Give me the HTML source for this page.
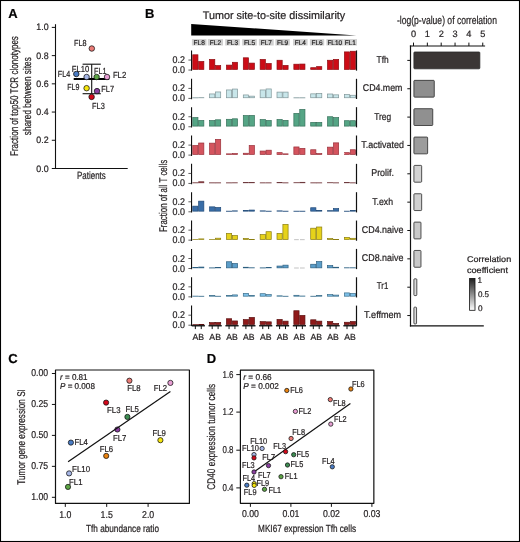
<!DOCTYPE html>
<html><head><meta charset="utf-8"><style>
html,body{margin:0;padding:0;background:#fff;}
svg{display:block;font-family:"Liberation Sans", sans-serif;will-change:transform;text-rendering:geometricPrecision;}
text{stroke:#231f20;stroke-width:0.22px;}

</style></head><body>
<svg width="520" height="542" viewBox="0 0 520 542" fill="#231f20">
<rect width="520" height="542" fill="#fff"/>
<rect x="0.5" y="0.5" width="519" height="541" fill="none" stroke="#000" stroke-width="1.1"/>
<text x="8.20" y="17.80" font-size="13.0" font-weight="bold" fill="#000">A</text>
<text x="145.00" y="17.90" font-size="13.0" font-weight="bold" fill="#000">B</text>
<text x="8.30" y="363.40" font-size="13.0" font-weight="bold" fill="#000">C</text>
<text x="206.70" y="363.30" font-size="13.0" font-weight="bold" fill="#000">D</text>
<line x1="55.50" y1="24.20" x2="55.50" y2="169.00" stroke="#111" stroke-width="1.1"/>
<line x1="55.00" y1="168.50" x2="127.70" y2="168.50" stroke="#111" stroke-width="1.1"/>
<line x1="51.80" y1="168.50" x2="55.50" y2="168.50" stroke="#111" stroke-width="1.0"/>
<text x="48.60" y="171.50" font-size="9.4" text-anchor="end" textLength="12.3" lengthAdjust="spacingAndGlyphs">0.0</text>
<line x1="51.80" y1="140.28" x2="55.50" y2="140.28" stroke="#111" stroke-width="1.0"/>
<text x="48.60" y="143.28" font-size="9.4" text-anchor="end" textLength="12.3" lengthAdjust="spacingAndGlyphs">0.2</text>
<line x1="51.80" y1="112.06" x2="55.50" y2="112.06" stroke="#111" stroke-width="1.0"/>
<text x="48.60" y="115.06" font-size="9.4" text-anchor="end" textLength="12.3" lengthAdjust="spacingAndGlyphs">0.4</text>
<line x1="51.80" y1="83.84" x2="55.50" y2="83.84" stroke="#111" stroke-width="1.0"/>
<text x="48.60" y="86.84" font-size="9.4" text-anchor="end" textLength="12.3" lengthAdjust="spacingAndGlyphs">0.6</text>
<line x1="51.80" y1="55.62" x2="55.50" y2="55.62" stroke="#111" stroke-width="1.0"/>
<text x="48.60" y="58.62" font-size="9.4" text-anchor="end" textLength="12.3" lengthAdjust="spacingAndGlyphs">0.8</text>
<line x1="51.80" y1="27.40" x2="55.50" y2="27.40" stroke="#111" stroke-width="1.0"/>
<text x="48.60" y="30.40" font-size="9.4" text-anchor="end" textLength="12.3" lengthAdjust="spacingAndGlyphs">1.0</text>
<text x="91.40" y="178.80" font-size="10.5" text-anchor="middle" textLength="28.7" lengthAdjust="spacingAndGlyphs">Patients</text>
<text x="17.80" y="96.05" font-size="11.2" text-anchor="middle" textLength="119.9" lengthAdjust="spacingAndGlyphs" transform="rotate(-90 17.80 96.05)">Fraction of top50 TCR clonotypes</text>
<text x="30.80" y="96.20" font-size="11.2" text-anchor="middle" textLength="78" lengthAdjust="spacingAndGlyphs" transform="rotate(-90 30.80 96.20)">shared between sites</text>
<line x1="91.70" y1="64.20" x2="91.70" y2="93.70" stroke="#111" stroke-width="1.1"/>
<line x1="82.60" y1="64.20" x2="100.80" y2="64.20" stroke="#111" stroke-width="1.1"/>
<line x1="82.60" y1="93.70" x2="100.80" y2="93.70" stroke="#111" stroke-width="1.1"/>
<line x1="73.70" y1="79.00" x2="109.20" y2="79.00" stroke="#000" stroke-width="1.9"/>
<circle cx="91.80" cy="48.50" r="2.75" fill="#ea7b76" stroke="#111" stroke-width="0.75"/>
<circle cx="76.30" cy="74.00" r="2.75" fill="#4a7cc4" stroke="#111" stroke-width="0.75"/>
<circle cx="86.60" cy="77.00" r="2.75" fill="#a6b6e6" stroke="#111" stroke-width="0.75"/>
<circle cx="96.60" cy="77.00" r="2.75" fill="#5da545" stroke="#111" stroke-width="0.75"/>
<circle cx="107.00" cy="77.00" r="2.75" fill="#e79ed3" stroke="#111" stroke-width="0.75"/>
<circle cx="86.60" cy="88.20" r="2.75" fill="#f6e60c" stroke="#111" stroke-width="0.75"/>
<circle cx="97.00" cy="91.10" r="2.75" fill="#8b3fa0" stroke="#111" stroke-width="0.75"/>
<circle cx="91.60" cy="96.90" r="2.75" fill="#d2081a" stroke="#111" stroke-width="0.75"/>
<text x="74.10" y="45.70" font-size="8.8" textLength="12.5" lengthAdjust="spacingAndGlyphs">FL8</text>
<text x="57.80" y="77.30" font-size="8.8" textLength="12.4" lengthAdjust="spacingAndGlyphs">FL4</text>
<text x="71.80" y="71.50" font-size="8.8" textLength="17.4" lengthAdjust="spacingAndGlyphs">FL10</text>
<text x="94.00" y="73.50" font-size="8.8" textLength="12.4" lengthAdjust="spacingAndGlyphs">FL1</text>
<text x="112.90" y="77.90" font-size="8.8" textLength="13.3" lengthAdjust="spacingAndGlyphs">FL2</text>
<text x="67.30" y="90.20" font-size="8.8" textLength="12.2" lengthAdjust="spacingAndGlyphs">FL9</text>
<text x="101.30" y="91.80" font-size="8.8" textLength="12.7" lengthAdjust="spacingAndGlyphs">FL7</text>
<text x="92.10" y="109.10" font-size="8.8" textLength="12.7" lengthAdjust="spacingAndGlyphs">FL3</text>
<text x="202.70" y="18.80" font-size="11.0" textLength="142.5" lengthAdjust="spacingAndGlyphs">Tumor site-to-site dissimilarity</text>
<polygon points="191.2,24 191.2,35.4 356.4,35.4" fill="#000"/>
<rect x="191.90" y="39.10" width="14.60" height="6.40" fill="#d0d0d0"/>
<text x="199.20" y="44.60" font-size="6.8" text-anchor="middle" fill="#1c1c1c" textLength="11.2" lengthAdjust="spacingAndGlyphs" stroke="#1c1c1c" style="stroke-width:0.18px">FL8</text>
<rect x="207.80" y="39.10" width="15.20" height="6.40" fill="#d0d0d0"/>
<text x="215.40" y="44.60" font-size="6.8" text-anchor="middle" fill="#1c1c1c" textLength="11.2" lengthAdjust="spacingAndGlyphs" stroke="#1c1c1c" style="stroke-width:0.18px">FL2</text>
<rect x="225.20" y="39.10" width="14.60" height="6.40" fill="#d0d0d0"/>
<text x="232.50" y="44.60" font-size="6.8" text-anchor="middle" fill="#1c1c1c" textLength="11.2" lengthAdjust="spacingAndGlyphs" stroke="#1c1c1c" style="stroke-width:0.18px">FL3</text>
<rect x="242.20" y="39.10" width="14.60" height="6.40" fill="#d0d0d0"/>
<text x="249.50" y="44.60" font-size="6.8" text-anchor="middle" fill="#1c1c1c" textLength="11.2" lengthAdjust="spacingAndGlyphs" stroke="#1c1c1c" style="stroke-width:0.18px">FL5</text>
<rect x="258.90" y="39.10" width="14.80" height="6.40" fill="#d0d0d0"/>
<text x="266.30" y="44.60" font-size="6.8" text-anchor="middle" fill="#1c1c1c" textLength="11.2" lengthAdjust="spacingAndGlyphs" stroke="#1c1c1c" style="stroke-width:0.18px">FL7</text>
<rect x="275.40" y="39.10" width="14.40" height="6.40" fill="#d0d0d0"/>
<text x="282.60" y="44.60" font-size="6.8" text-anchor="middle" fill="#1c1c1c" textLength="11.2" lengthAdjust="spacingAndGlyphs" stroke="#1c1c1c" style="stroke-width:0.18px">FL9</text>
<rect x="293.00" y="39.10" width="14.60" height="6.40" fill="#d0d0d0"/>
<text x="300.30" y="44.60" font-size="6.8" text-anchor="middle" fill="#1c1c1c" textLength="11.2" lengthAdjust="spacingAndGlyphs" stroke="#1c1c1c" style="stroke-width:0.18px">FL4</text>
<rect x="309.90" y="39.10" width="14.30" height="6.40" fill="#d0d0d0"/>
<text x="317.05" y="44.60" font-size="6.8" text-anchor="middle" fill="#1c1c1c" textLength="11.2" lengthAdjust="spacingAndGlyphs" stroke="#1c1c1c" style="stroke-width:0.18px">FL6</text>
<rect x="326.40" y="39.10" width="16.80" height="6.40" fill="#d0d0d0"/>
<text x="334.80" y="44.60" font-size="6.8" text-anchor="middle" fill="#1c1c1c" textLength="14.8" lengthAdjust="spacingAndGlyphs" stroke="#1c1c1c" style="stroke-width:0.18px">FL10</text>
<rect x="343.50" y="39.10" width="13.50" height="6.40" fill="#d0d0d0"/>
<text x="350.25" y="44.60" font-size="6.8" text-anchor="middle" fill="#1c1c1c" textLength="11.2" lengthAdjust="spacingAndGlyphs" stroke="#1c1c1c" style="stroke-width:0.18px">FL1</text>
<line x1="191.55" y1="50.45" x2="191.55" y2="70.85" stroke="#111" stroke-width="1.1"/>
<line x1="188.40" y1="70.05" x2="191.20" y2="70.05" stroke="#444" stroke-width="0.85"/>
<text x="184.90" y="73.05" font-size="9.8" text-anchor="end" textLength="12.4" lengthAdjust="spacingAndGlyphs">0.0</text>
<line x1="188.40" y1="60.05" x2="191.20" y2="60.05" stroke="#444" stroke-width="0.85"/>
<text x="184.90" y="63.05" font-size="9.8" text-anchor="end" textLength="12.4" lengthAdjust="spacingAndGlyphs">0.2</text>
<rect x="192.75" y="54.80" width="5.20" height="14.60" fill="#cc0c16" stroke="#8e0c12" stroke-width="0.7"/>
<rect x="198.65" y="61.50" width="5.20" height="7.90" fill="#cc0c16" stroke="#8e0c12" stroke-width="0.7"/>
<rect x="209.60" y="59.45" width="5.20" height="9.95" fill="#cc0c16" stroke="#8e0c12" stroke-width="0.7"/>
<rect x="215.50" y="65.60" width="5.20" height="3.80" fill="#cc0c16" stroke="#8e0c12" stroke-width="0.7"/>
<rect x="226.45" y="65.10" width="5.20" height="4.30" fill="#cc0c16" stroke="#8e0c12" stroke-width="0.7"/>
<rect x="232.35" y="62.30" width="5.20" height="7.10" fill="#cc0c16" stroke="#8e0c12" stroke-width="0.7"/>
<rect x="243.30" y="57.80" width="5.20" height="11.60" fill="#cc0c16" stroke="#8e0c12" stroke-width="0.7"/>
<rect x="249.20" y="63.10" width="5.20" height="6.30" fill="#cc0c16" stroke="#8e0c12" stroke-width="0.7"/>
<rect x="260.15" y="59.45" width="5.20" height="9.95" fill="#cc0c16" stroke="#8e0c12" stroke-width="0.7"/>
<rect x="266.05" y="63.50" width="5.20" height="5.90" fill="#cc0c16" stroke="#8e0c12" stroke-width="0.7"/>
<rect x="277.00" y="60.25" width="5.20" height="9.15" fill="#cc0c16" stroke="#8e0c12" stroke-width="0.7"/>
<rect x="282.90" y="65.44" width="5.20" height="3.96" fill="#cc0c16" stroke="#8e0c12" stroke-width="0.7"/>
<rect x="293.85" y="64.20" width="5.20" height="5.20" fill="#cc0c16" stroke="#8e0c12" stroke-width="0.7"/>
<rect x="299.75" y="64.05" width="5.20" height="5.35" fill="#cc0c16" stroke="#8e0c12" stroke-width="0.7"/>
<rect x="310.70" y="67.70" width="5.20" height="1.70" fill="#cc0c16" stroke="#8e0c12" stroke-width="0.7"/>
<rect x="316.60" y="66.65" width="5.20" height="2.75" fill="#cc0c16" stroke="#8e0c12" stroke-width="0.7"/>
<rect x="327.55" y="60.25" width="5.20" height="9.15" fill="#cc0c16" stroke="#8e0c12" stroke-width="0.7"/>
<rect x="333.45" y="59.40" width="5.20" height="10.00" fill="#cc0c16" stroke="#8e0c12" stroke-width="0.7"/>
<rect x="344.40" y="51.90" width="5.20" height="17.50" fill="#cc0c16" stroke="#8e0c12" stroke-width="0.7"/>
<rect x="350.30" y="51.25" width="5.20" height="18.15" fill="#cc0c16" stroke="#8e0c12" stroke-width="0.7"/>
<line x1="356.50" y1="50.45" x2="356.50" y2="70.65" stroke="#111" stroke-width="1.2"/>
<text x="382.60" y="63.20" font-size="9.8" text-anchor="middle" textLength="12.1" lengthAdjust="spacingAndGlyphs">Tfh</text>
<line x1="407.30" y1="60.40" x2="410.50" y2="60.40" stroke="#111" stroke-width="1.0"/>
<rect x="413.90" y="52.00" width="65.94" height="16.80" fill="#3b3635" stroke="#2a2a2a" stroke-width="0.8" rx="0.8"/>
<line x1="191.55" y1="78.80" x2="191.55" y2="99.20" stroke="#111" stroke-width="1.1"/>
<line x1="188.40" y1="98.40" x2="191.20" y2="98.40" stroke="#444" stroke-width="0.85"/>
<text x="184.90" y="101.40" font-size="9.8" text-anchor="end" textLength="12.4" lengthAdjust="spacingAndGlyphs">0.0</text>
<line x1="188.40" y1="88.40" x2="191.20" y2="88.40" stroke="#444" stroke-width="0.85"/>
<text x="184.90" y="91.40" font-size="9.8" text-anchor="end" textLength="12.4" lengthAdjust="spacingAndGlyphs">0.2</text>
<rect x="192.75" y="97.75" width="5.20" height="0.15" fill="#c8e6ea" stroke="#7f9598" stroke-width="0.7"/>
<rect x="198.65" y="97.65" width="5.20" height="0.15" fill="#c8e6ea" stroke="#7f9598" stroke-width="0.7"/>
<rect x="209.60" y="93.95" width="5.20" height="3.80" fill="#c8e6ea" stroke="#7f9598" stroke-width="0.7"/>
<rect x="215.50" y="91.95" width="5.20" height="5.80" fill="#c8e6ea" stroke="#7f9598" stroke-width="0.7"/>
<rect x="226.45" y="89.95" width="5.20" height="7.80" fill="#c8e6ea" stroke="#7f9598" stroke-width="0.7"/>
<rect x="232.35" y="89.05" width="5.20" height="8.70" fill="#c8e6ea" stroke="#7f9598" stroke-width="0.7"/>
<rect x="243.30" y="94.95" width="5.20" height="2.80" fill="#c8e6ea" stroke="#7f9598" stroke-width="0.7"/>
<rect x="249.20" y="96.15" width="5.20" height="1.60" fill="#c8e6ea" stroke="#7f9598" stroke-width="0.7"/>
<rect x="260.15" y="89.95" width="5.20" height="7.80" fill="#c8e6ea" stroke="#7f9598" stroke-width="0.7"/>
<rect x="266.05" y="88.95" width="5.20" height="8.80" fill="#c8e6ea" stroke="#7f9598" stroke-width="0.7"/>
<rect x="277.00" y="92.10" width="5.20" height="5.65" fill="#c8e6ea" stroke="#7f9598" stroke-width="0.7"/>
<rect x="282.90" y="92.10" width="5.20" height="5.65" fill="#c8e6ea" stroke="#7f9598" stroke-width="0.7"/>
<rect x="293.85" y="97.75" width="5.20" height="0.15" fill="#c8e6ea" stroke="#7f9598" stroke-width="0.7"/>
<rect x="299.75" y="97.75" width="5.20" height="0.15" fill="#c8e6ea" stroke="#7f9598" stroke-width="0.7"/>
<rect x="310.70" y="93.85" width="5.20" height="3.90" fill="#c8e6ea" stroke="#7f9598" stroke-width="0.7"/>
<rect x="316.60" y="93.55" width="5.20" height="4.20" fill="#c8e6ea" stroke="#7f9598" stroke-width="0.7"/>
<rect x="327.55" y="94.00" width="5.20" height="3.75" fill="#c8e6ea" stroke="#7f9598" stroke-width="0.7"/>
<rect x="333.45" y="94.85" width="5.20" height="2.90" fill="#c8e6ea" stroke="#7f9598" stroke-width="0.7"/>
<rect x="344.40" y="94.55" width="5.20" height="3.20" fill="#c8e6ea" stroke="#7f9598" stroke-width="0.7"/>
<rect x="350.30" y="95.25" width="5.20" height="2.50" fill="#c8e6ea" stroke="#7f9598" stroke-width="0.7"/>
<line x1="356.50" y1="78.80" x2="356.50" y2="99.00" stroke="#111" stroke-width="1.2"/>
<text x="382.60" y="91.47" font-size="9.8" text-anchor="middle" textLength="39.6" lengthAdjust="spacingAndGlyphs">CD4.mem</text>
<line x1="407.30" y1="88.75" x2="410.50" y2="88.75" stroke="#111" stroke-width="1.0"/>
<rect x="413.90" y="80.35" width="20.38" height="16.80" fill="#8e8e8e" stroke="#2a2a2a" stroke-width="0.8" rx="0.8"/>
<line x1="191.55" y1="107.15" x2="191.55" y2="127.55" stroke="#111" stroke-width="1.1"/>
<line x1="188.40" y1="126.75" x2="191.20" y2="126.75" stroke="#444" stroke-width="0.85"/>
<text x="184.90" y="129.75" font-size="9.8" text-anchor="end" textLength="12.4" lengthAdjust="spacingAndGlyphs">0.0</text>
<line x1="188.40" y1="116.75" x2="191.20" y2="116.75" stroke="#444" stroke-width="0.85"/>
<text x="184.90" y="119.75" font-size="9.8" text-anchor="end" textLength="12.4" lengthAdjust="spacingAndGlyphs">0.2</text>
<rect x="192.75" y="117.60" width="5.20" height="8.50" fill="#55a585" stroke="#35705a" stroke-width="0.7"/>
<rect x="198.65" y="120.50" width="5.20" height="5.60" fill="#55a585" stroke="#35705a" stroke-width="0.7"/>
<rect x="209.60" y="120.60" width="5.20" height="5.50" fill="#55a585" stroke="#35705a" stroke-width="0.7"/>
<rect x="215.50" y="119.80" width="5.20" height="6.30" fill="#55a585" stroke="#35705a" stroke-width="0.7"/>
<rect x="226.45" y="119.30" width="5.20" height="6.80" fill="#55a585" stroke="#35705a" stroke-width="0.7"/>
<rect x="232.35" y="118.80" width="5.20" height="7.30" fill="#55a585" stroke="#35705a" stroke-width="0.7"/>
<rect x="243.30" y="115.60" width="5.20" height="10.50" fill="#55a585" stroke="#35705a" stroke-width="0.7"/>
<rect x="249.20" y="115.45" width="5.20" height="10.65" fill="#55a585" stroke="#35705a" stroke-width="0.7"/>
<rect x="260.15" y="119.60" width="5.20" height="6.50" fill="#55a585" stroke="#35705a" stroke-width="0.7"/>
<rect x="266.05" y="120.50" width="5.20" height="5.60" fill="#55a585" stroke="#35705a" stroke-width="0.7"/>
<rect x="277.00" y="119.50" width="5.20" height="6.60" fill="#55a585" stroke="#35705a" stroke-width="0.7"/>
<rect x="282.90" y="120.36" width="5.20" height="5.74" fill="#55a585" stroke="#35705a" stroke-width="0.7"/>
<rect x="293.85" y="113.44" width="5.20" height="12.66" fill="#55a585" stroke="#35705a" stroke-width="0.7"/>
<rect x="299.75" y="109.46" width="5.20" height="16.64" fill="#55a585" stroke="#35705a" stroke-width="0.7"/>
<rect x="310.70" y="122.44" width="5.20" height="3.66" fill="#55a585" stroke="#35705a" stroke-width="0.7"/>
<rect x="316.60" y="122.44" width="5.20" height="3.66" fill="#55a585" stroke="#35705a" stroke-width="0.7"/>
<rect x="327.55" y="116.73" width="5.20" height="9.37" fill="#55a585" stroke="#35705a" stroke-width="0.7"/>
<rect x="333.45" y="117.60" width="5.20" height="8.50" fill="#55a585" stroke="#35705a" stroke-width="0.7"/>
<rect x="344.40" y="120.70" width="5.20" height="5.40" fill="#55a585" stroke="#35705a" stroke-width="0.7"/>
<rect x="350.30" y="120.70" width="5.20" height="5.40" fill="#55a585" stroke="#35705a" stroke-width="0.7"/>
<line x1="356.50" y1="107.15" x2="356.50" y2="127.35" stroke="#111" stroke-width="1.2"/>
<text x="382.60" y="119.74" font-size="9.8" text-anchor="middle" textLength="16.9" lengthAdjust="spacingAndGlyphs">Treg</text>
<line x1="407.30" y1="117.10" x2="410.50" y2="117.10" stroke="#111" stroke-width="1.0"/>
<rect x="413.90" y="108.70" width="18.85" height="16.80" fill="#909090" stroke="#2a2a2a" stroke-width="0.8" rx="0.8"/>
<line x1="191.55" y1="135.50" x2="191.55" y2="155.90" stroke="#111" stroke-width="1.1"/>
<line x1="188.40" y1="155.10" x2="191.20" y2="155.10" stroke="#444" stroke-width="0.85"/>
<text x="184.90" y="158.10" font-size="9.8" text-anchor="end" textLength="12.4" lengthAdjust="spacingAndGlyphs">0.0</text>
<line x1="188.40" y1="145.10" x2="191.20" y2="145.10" stroke="#444" stroke-width="0.85"/>
<text x="184.90" y="148.10" font-size="9.8" text-anchor="end" textLength="12.4" lengthAdjust="spacingAndGlyphs">0.2</text>
<rect x="192.75" y="145.55" width="5.20" height="8.90" fill="#d4545e" stroke="#99303a" stroke-width="0.7"/>
<rect x="198.65" y="143.00" width="5.20" height="11.45" fill="#d4545e" stroke="#99303a" stroke-width="0.7"/>
<rect x="209.60" y="143.15" width="5.20" height="11.30" fill="#d4545e" stroke="#99303a" stroke-width="0.7"/>
<rect x="215.50" y="139.35" width="5.20" height="15.10" fill="#d4545e" stroke="#99303a" stroke-width="0.7"/>
<rect x="226.45" y="153.85" width="5.20" height="0.60" fill="#d4545e" stroke="#99303a" stroke-width="0.7"/>
<rect x="232.35" y="153.55" width="5.20" height="0.90" fill="#d4545e" stroke="#99303a" stroke-width="0.7"/>
<rect x="243.30" y="153.25" width="5.20" height="1.20" fill="#d4545e" stroke="#99303a" stroke-width="0.7"/>
<rect x="249.20" y="145.55" width="5.20" height="8.90" fill="#d4545e" stroke="#99303a" stroke-width="0.7"/>
<rect x="260.15" y="151.05" width="5.20" height="3.40" fill="#d4545e" stroke="#99303a" stroke-width="0.7"/>
<rect x="266.05" y="150.20" width="5.20" height="4.25" fill="#d4545e" stroke="#99303a" stroke-width="0.7"/>
<rect x="277.00" y="152.65" width="5.20" height="1.80" fill="#d4545e" stroke="#99303a" stroke-width="0.7"/>
<rect x="282.90" y="153.85" width="5.20" height="0.60" fill="#d4545e" stroke="#99303a" stroke-width="0.7"/>
<rect x="293.85" y="146.95" width="5.20" height="7.50" fill="#d4545e" stroke="#99303a" stroke-width="0.7"/>
<rect x="299.75" y="148.35" width="5.20" height="6.10" fill="#d4545e" stroke="#99303a" stroke-width="0.7"/>
<rect x="310.70" y="149.75" width="5.20" height="4.70" fill="#d4545e" stroke="#99303a" stroke-width="0.7"/>
<rect x="316.60" y="153.55" width="5.20" height="0.90" fill="#d4545e" stroke="#99303a" stroke-width="0.7"/>
<rect x="327.55" y="147.15" width="5.20" height="7.30" fill="#d4545e" stroke="#99303a" stroke-width="0.7"/>
<rect x="333.45" y="142.85" width="5.20" height="11.60" fill="#d4545e" stroke="#99303a" stroke-width="0.7"/>
<rect x="344.40" y="152.65" width="5.20" height="1.80" fill="#d4545e" stroke="#99303a" stroke-width="0.7"/>
<rect x="350.30" y="149.75" width="5.20" height="4.70" fill="#d4545e" stroke="#99303a" stroke-width="0.7"/>
<line x1="356.50" y1="135.50" x2="356.50" y2="155.70" stroke="#111" stroke-width="1.2"/>
<text x="382.60" y="148.01" font-size="9.8" text-anchor="middle" textLength="42.7" lengthAdjust="spacingAndGlyphs">T.activated</text>
<line x1="407.30" y1="145.45" x2="410.50" y2="145.45" stroke="#111" stroke-width="1.0"/>
<rect x="413.90" y="137.05" width="13.73" height="16.80" fill="#9c9c9c" stroke="#2a2a2a" stroke-width="0.8" rx="0.8"/>
<line x1="191.55" y1="163.85" x2="191.55" y2="184.25" stroke="#111" stroke-width="1.1"/>
<line x1="188.40" y1="183.45" x2="191.20" y2="183.45" stroke="#444" stroke-width="0.85"/>
<text x="184.90" y="186.45" font-size="9.8" text-anchor="end" textLength="12.4" lengthAdjust="spacingAndGlyphs">0.0</text>
<line x1="188.40" y1="173.45" x2="191.20" y2="173.45" stroke="#444" stroke-width="0.85"/>
<text x="184.90" y="176.45" font-size="9.8" text-anchor="end" textLength="12.4" lengthAdjust="spacingAndGlyphs">0.2</text>
<rect x="192.75" y="182.75" width="5.20" height="0.15" fill="#a31c24" stroke="#6e3a3e" stroke-width="0.7"/>
<rect x="198.65" y="181.75" width="5.20" height="1.05" fill="#a31c24" stroke="#6e3a3e" stroke-width="0.7"/>
<rect x="209.60" y="182.80" width="5.20" height="0.15" fill="#a31c24" stroke="#6e3a3e" stroke-width="0.7"/>
<rect x="215.50" y="182.80" width="5.20" height="0.15" fill="#a31c24" stroke="#6e3a3e" stroke-width="0.7"/>
<rect x="226.45" y="182.80" width="5.20" height="0.15" fill="#a31c24" stroke="#6e3a3e" stroke-width="0.7"/>
<rect x="232.35" y="182.75" width="5.20" height="0.15" fill="#a31c24" stroke="#6e3a3e" stroke-width="0.7"/>
<rect x="243.30" y="182.40" width="5.20" height="0.40" fill="#a31c24" stroke="#6e3a3e" stroke-width="0.7"/>
<rect x="249.20" y="182.40" width="5.20" height="0.40" fill="#a31c24" stroke="#6e3a3e" stroke-width="0.7"/>
<rect x="260.15" y="182.80" width="5.20" height="0.15" fill="#a31c24" stroke="#6e3a3e" stroke-width="0.7"/>
<rect x="266.05" y="182.80" width="5.20" height="0.15" fill="#a31c24" stroke="#6e3a3e" stroke-width="0.7"/>
<rect x="277.00" y="182.50" width="5.20" height="0.30" fill="#a31c24" stroke="#6e3a3e" stroke-width="0.7"/>
<rect x="282.90" y="182.80" width="5.20" height="0.15" fill="#a31c24" stroke="#6e3a3e" stroke-width="0.7"/>
<rect x="293.85" y="182.65" width="5.20" height="0.15" fill="#a31c24" stroke="#6e3a3e" stroke-width="0.7"/>
<rect x="299.75" y="182.30" width="5.20" height="0.50" fill="#a31c24" stroke="#6e3a3e" stroke-width="0.7"/>
<rect x="310.70" y="182.80" width="5.20" height="0.15" fill="#a31c24" stroke="#6e3a3e" stroke-width="0.7"/>
<rect x="316.60" y="182.80" width="5.20" height="0.15" fill="#a31c24" stroke="#6e3a3e" stroke-width="0.7"/>
<rect x="327.55" y="182.65" width="5.20" height="0.15" fill="#a31c24" stroke="#6e3a3e" stroke-width="0.7"/>
<rect x="333.45" y="182.80" width="5.20" height="0.15" fill="#a31c24" stroke="#6e3a3e" stroke-width="0.7"/>
<rect x="344.40" y="182.50" width="5.20" height="0.30" fill="#a31c24" stroke="#6e3a3e" stroke-width="0.7"/>
<rect x="350.30" y="182.80" width="5.20" height="0.15" fill="#a31c24" stroke="#6e3a3e" stroke-width="0.7"/>
<line x1="356.50" y1="163.85" x2="356.50" y2="184.05" stroke="#111" stroke-width="1.2"/>
<text x="382.60" y="176.28" font-size="9.8" text-anchor="middle" textLength="22.8" lengthAdjust="spacingAndGlyphs">Prolif.</text>
<line x1="407.30" y1="173.80" x2="410.50" y2="173.80" stroke="#111" stroke-width="1.0"/>
<rect x="413.90" y="165.40" width="7.77" height="16.80" fill="#d3d3d3" stroke="#2a2a2a" stroke-width="0.8" rx="0.8"/>
<line x1="191.55" y1="192.20" x2="191.55" y2="212.60" stroke="#111" stroke-width="1.1"/>
<line x1="188.40" y1="211.80" x2="191.20" y2="211.80" stroke="#444" stroke-width="0.85"/>
<text x="184.90" y="214.80" font-size="9.8" text-anchor="end" textLength="12.4" lengthAdjust="spacingAndGlyphs">0.0</text>
<line x1="188.40" y1="201.80" x2="191.20" y2="201.80" stroke="#444" stroke-width="0.85"/>
<text x="184.90" y="204.80" font-size="9.8" text-anchor="end" textLength="12.4" lengthAdjust="spacingAndGlyphs">0.2</text>
<rect x="192.75" y="206.15" width="5.20" height="5.00" fill="#3a6ea8" stroke="#214a78" stroke-width="0.7"/>
<rect x="198.65" y="201.15" width="5.20" height="10.00" fill="#3a6ea8" stroke="#214a78" stroke-width="0.7"/>
<rect x="209.60" y="206.85" width="5.20" height="4.30" fill="#3a6ea8" stroke="#214a78" stroke-width="0.7"/>
<rect x="215.50" y="207.50" width="5.20" height="3.65" fill="#3a6ea8" stroke="#214a78" stroke-width="0.7"/>
<rect x="226.45" y="211.15" width="5.20" height="0.15" fill="#3a6ea8" stroke="#214a78" stroke-width="0.7"/>
<rect x="232.35" y="210.85" width="5.20" height="0.30" fill="#3a6ea8" stroke="#214a78" stroke-width="0.7"/>
<rect x="243.30" y="210.55" width="5.20" height="0.60" fill="#3a6ea8" stroke="#214a78" stroke-width="0.7"/>
<rect x="249.20" y="210.05" width="5.20" height="1.10" fill="#3a6ea8" stroke="#214a78" stroke-width="0.7"/>
<rect x="260.15" y="210.85" width="5.20" height="0.30" fill="#3a6ea8" stroke="#214a78" stroke-width="0.7"/>
<rect x="266.05" y="211.15" width="5.20" height="0.15" fill="#3a6ea8" stroke="#214a78" stroke-width="0.7"/>
<rect x="277.00" y="210.85" width="5.20" height="0.30" fill="#3a6ea8" stroke="#214a78" stroke-width="0.7"/>
<rect x="282.90" y="211.15" width="5.20" height="0.15" fill="#3a6ea8" stroke="#214a78" stroke-width="0.7"/>
<rect x="293.85" y="211.15" width="5.20" height="0.15" fill="#3a6ea8" stroke="#214a78" stroke-width="0.7"/>
<rect x="299.75" y="211.15" width="5.20" height="0.15" fill="#3a6ea8" stroke="#214a78" stroke-width="0.7"/>
<rect x="310.70" y="207.75" width="5.20" height="3.40" fill="#3a6ea8" stroke="#214a78" stroke-width="0.7"/>
<rect x="316.60" y="210.35" width="5.20" height="0.80" fill="#3a6ea8" stroke="#214a78" stroke-width="0.7"/>
<rect x="327.55" y="210.65" width="5.20" height="0.50" fill="#3a6ea8" stroke="#214a78" stroke-width="0.7"/>
<rect x="333.45" y="208.60" width="5.20" height="2.55" fill="#3a6ea8" stroke="#214a78" stroke-width="0.7"/>
<rect x="344.40" y="211.15" width="5.20" height="0.15" fill="#3a6ea8" stroke="#214a78" stroke-width="0.7"/>
<rect x="350.30" y="210.50" width="5.20" height="0.65" fill="#3a6ea8" stroke="#214a78" stroke-width="0.7"/>
<line x1="356.50" y1="192.20" x2="356.50" y2="212.40" stroke="#111" stroke-width="1.2"/>
<text x="382.60" y="204.55" font-size="9.8" text-anchor="middle" textLength="20.8" lengthAdjust="spacingAndGlyphs">T.exh</text>
<line x1="407.30" y1="202.15" x2="410.50" y2="202.15" stroke="#111" stroke-width="1.0"/>
<rect x="413.90" y="193.75" width="7.77" height="16.80" fill="#d0d0d0" stroke="#2a2a2a" stroke-width="0.8" rx="0.8"/>
<line x1="191.55" y1="220.55" x2="191.55" y2="240.95" stroke="#111" stroke-width="1.1"/>
<line x1="188.40" y1="240.15" x2="191.20" y2="240.15" stroke="#444" stroke-width="0.85"/>
<text x="184.90" y="243.15" font-size="9.8" text-anchor="end" textLength="12.4" lengthAdjust="spacingAndGlyphs">0.0</text>
<line x1="188.40" y1="230.15" x2="191.20" y2="230.15" stroke="#444" stroke-width="0.85"/>
<text x="184.90" y="233.15" font-size="9.8" text-anchor="end" textLength="12.4" lengthAdjust="spacingAndGlyphs">0.2</text>
<rect x="192.75" y="239.40" width="5.20" height="0.15" fill="#e6d21a" stroke="#8a7d10" stroke-width="0.7"/>
<rect x="198.65" y="238.90" width="5.20" height="0.60" fill="#e6d21a" stroke="#8a7d10" stroke-width="0.7"/>
<rect x="209.60" y="239.40" width="5.20" height="0.15" fill="#e6d21a" stroke="#8a7d10" stroke-width="0.7"/>
<rect x="215.50" y="238.20" width="5.20" height="1.30" fill="#e6d21a" stroke="#8a7d10" stroke-width="0.7"/>
<rect x="226.45" y="233.40" width="5.20" height="6.10" fill="#e6d21a" stroke="#8a7d10" stroke-width="0.7"/>
<rect x="232.35" y="235.60" width="5.20" height="3.90" fill="#e6d21a" stroke="#8a7d10" stroke-width="0.7"/>
<rect x="243.30" y="238.40" width="5.20" height="1.10" fill="#e6d21a" stroke="#8a7d10" stroke-width="0.7"/>
<rect x="249.20" y="239.50" width="5.20" height="0.15" fill="#e6d21a" stroke="#8a7d10" stroke-width="0.7"/>
<rect x="260.15" y="234.60" width="5.20" height="4.90" fill="#e6d21a" stroke="#8a7d10" stroke-width="0.7"/>
<rect x="266.05" y="231.70" width="5.20" height="7.80" fill="#e6d21a" stroke="#8a7d10" stroke-width="0.7"/>
<rect x="277.00" y="233.40" width="5.20" height="6.10" fill="#e6d21a" stroke="#8a7d10" stroke-width="0.7"/>
<rect x="282.90" y="224.40" width="5.20" height="15.10" fill="#e6d21a" stroke="#8a7d10" stroke-width="0.7"/>
<rect x="294.10" y="239.15" width="4.70" height="1.00" fill="#c4c4c4"/>
<rect x="300.00" y="239.15" width="4.70" height="1.00" fill="#c4c4c4"/>
<rect x="310.70" y="228.20" width="5.20" height="11.30" fill="#e6d21a" stroke="#8a7d10" stroke-width="0.7"/>
<rect x="316.60" y="227.00" width="5.20" height="12.50" fill="#e6d21a" stroke="#8a7d10" stroke-width="0.7"/>
<rect x="327.55" y="238.60" width="5.20" height="0.90" fill="#e6d21a" stroke="#8a7d10" stroke-width="0.7"/>
<rect x="333.45" y="239.50" width="5.20" height="0.15" fill="#e6d21a" stroke="#8a7d10" stroke-width="0.7"/>
<rect x="344.40" y="237.40" width="5.20" height="2.10" fill="#e6d21a" stroke="#8a7d10" stroke-width="0.7"/>
<rect x="350.30" y="238.30" width="5.20" height="1.20" fill="#e6d21a" stroke="#8a7d10" stroke-width="0.7"/>
<line x1="356.50" y1="220.55" x2="356.50" y2="240.75" stroke="#111" stroke-width="1.2"/>
<text x="382.60" y="232.82" font-size="9.8" text-anchor="middle" textLength="41.6" lengthAdjust="spacingAndGlyphs">CD4.naive</text>
<line x1="407.30" y1="230.50" x2="410.50" y2="230.50" stroke="#111" stroke-width="1.0"/>
<rect x="413.90" y="222.10" width="7.08" height="16.80" fill="#c9c9c9" stroke="#2a2a2a" stroke-width="0.8" rx="0.8"/>
<line x1="191.55" y1="248.90" x2="191.55" y2="269.30" stroke="#111" stroke-width="1.1"/>
<line x1="188.40" y1="268.50" x2="191.20" y2="268.50" stroke="#444" stroke-width="0.85"/>
<text x="184.90" y="271.50" font-size="9.8" text-anchor="end" textLength="12.4" lengthAdjust="spacingAndGlyphs">0.0</text>
<line x1="188.40" y1="258.50" x2="191.20" y2="258.50" stroke="#444" stroke-width="0.85"/>
<text x="184.90" y="261.50" font-size="9.8" text-anchor="end" textLength="12.4" lengthAdjust="spacingAndGlyphs">0.2</text>
<rect x="192.75" y="267.55" width="5.20" height="0.30" fill="#5b9dc9" stroke="#2d5f80" stroke-width="0.7"/>
<rect x="198.65" y="267.05" width="5.20" height="0.80" fill="#5b9dc9" stroke="#2d5f80" stroke-width="0.7"/>
<rect x="209.60" y="267.85" width="5.20" height="0.15" fill="#5b9dc9" stroke="#2d5f80" stroke-width="0.7"/>
<rect x="215.50" y="267.55" width="5.20" height="0.30" fill="#5b9dc9" stroke="#2d5f80" stroke-width="0.7"/>
<rect x="226.45" y="261.75" width="5.20" height="6.10" fill="#5b9dc9" stroke="#2d5f80" stroke-width="0.7"/>
<rect x="232.35" y="263.55" width="5.20" height="4.30" fill="#5b9dc9" stroke="#2d5f80" stroke-width="0.7"/>
<rect x="243.30" y="267.25" width="5.20" height="0.60" fill="#5b9dc9" stroke="#2d5f80" stroke-width="0.7"/>
<rect x="249.20" y="267.75" width="5.20" height="0.15" fill="#5b9dc9" stroke="#2d5f80" stroke-width="0.7"/>
<rect x="260.15" y="267.85" width="5.20" height="0.15" fill="#5b9dc9" stroke="#2d5f80" stroke-width="0.7"/>
<rect x="266.05" y="267.55" width="5.20" height="0.30" fill="#5b9dc9" stroke="#2d5f80" stroke-width="0.7"/>
<rect x="277.00" y="266.05" width="5.20" height="1.80" fill="#5b9dc9" stroke="#2d5f80" stroke-width="0.7"/>
<rect x="282.90" y="265.15" width="5.20" height="2.70" fill="#5b9dc9" stroke="#2d5f80" stroke-width="0.7"/>
<rect x="294.10" y="267.50" width="4.70" height="1.00" fill="#c4c4c4"/>
<rect x="300.00" y="267.50" width="4.70" height="1.00" fill="#c4c4c4"/>
<rect x="310.70" y="264.25" width="5.20" height="3.60" fill="#5b9dc9" stroke="#2d5f80" stroke-width="0.7"/>
<rect x="316.60" y="261.65" width="5.20" height="6.20" fill="#5b9dc9" stroke="#2d5f80" stroke-width="0.7"/>
<rect x="327.55" y="265.65" width="5.20" height="2.20" fill="#5b9dc9" stroke="#2d5f80" stroke-width="0.7"/>
<rect x="333.45" y="267.25" width="5.20" height="0.60" fill="#5b9dc9" stroke="#2d5f80" stroke-width="0.7"/>
<rect x="344.40" y="267.75" width="5.20" height="0.15" fill="#5b9dc9" stroke="#2d5f80" stroke-width="0.7"/>
<rect x="350.30" y="267.75" width="5.20" height="0.15" fill="#5b9dc9" stroke="#2d5f80" stroke-width="0.7"/>
<line x1="356.50" y1="248.90" x2="356.50" y2="269.10" stroke="#111" stroke-width="1.2"/>
<text x="382.60" y="261.09" font-size="9.8" text-anchor="middle" textLength="41.6" lengthAdjust="spacingAndGlyphs">CD8.naive</text>
<line x1="407.30" y1="258.85" x2="410.50" y2="258.85" stroke="#111" stroke-width="1.0"/>
<rect x="413.90" y="250.45" width="7.08" height="16.80" fill="#c9c9c9" stroke="#2a2a2a" stroke-width="0.8" rx="0.8"/>
<line x1="191.55" y1="277.25" x2="191.55" y2="297.65" stroke="#111" stroke-width="1.1"/>
<line x1="188.40" y1="296.85" x2="191.20" y2="296.85" stroke="#444" stroke-width="0.85"/>
<text x="184.90" y="299.85" font-size="9.8" text-anchor="end" textLength="12.4" lengthAdjust="spacingAndGlyphs">0.0</text>
<line x1="188.40" y1="286.85" x2="191.20" y2="286.85" stroke="#444" stroke-width="0.85"/>
<text x="184.90" y="289.85" font-size="9.8" text-anchor="end" textLength="12.4" lengthAdjust="spacingAndGlyphs">0.2</text>
<rect x="192.75" y="296.10" width="5.20" height="0.15" fill="#7dc0e8" stroke="#3b6d8a" stroke-width="0.7"/>
<rect x="198.65" y="296.20" width="5.20" height="0.15" fill="#7dc0e8" stroke="#3b6d8a" stroke-width="0.7"/>
<rect x="209.60" y="295.60" width="5.20" height="0.60" fill="#7dc0e8" stroke="#3b6d8a" stroke-width="0.7"/>
<rect x="215.50" y="296.20" width="5.20" height="0.15" fill="#7dc0e8" stroke="#3b6d8a" stroke-width="0.7"/>
<rect x="226.45" y="295.40" width="5.20" height="0.80" fill="#7dc0e8" stroke="#3b6d8a" stroke-width="0.7"/>
<rect x="232.35" y="294.90" width="5.20" height="1.30" fill="#7dc0e8" stroke="#3b6d8a" stroke-width="0.7"/>
<rect x="243.30" y="293.40" width="5.20" height="2.80" fill="#7dc0e8" stroke="#3b6d8a" stroke-width="0.7"/>
<rect x="249.20" y="295.40" width="5.20" height="0.80" fill="#7dc0e8" stroke="#3b6d8a" stroke-width="0.7"/>
<rect x="260.15" y="293.70" width="5.20" height="2.50" fill="#7dc0e8" stroke="#3b6d8a" stroke-width="0.7"/>
<rect x="266.05" y="294.60" width="5.20" height="1.60" fill="#7dc0e8" stroke="#3b6d8a" stroke-width="0.7"/>
<rect x="277.00" y="295.80" width="5.20" height="0.40" fill="#7dc0e8" stroke="#3b6d8a" stroke-width="0.7"/>
<rect x="282.90" y="296.20" width="5.20" height="0.15" fill="#7dc0e8" stroke="#3b6d8a" stroke-width="0.7"/>
<rect x="293.85" y="295.30" width="5.20" height="0.90" fill="#7dc0e8" stroke="#3b6d8a" stroke-width="0.7"/>
<rect x="299.75" y="296.00" width="5.20" height="0.20" fill="#7dc0e8" stroke="#3b6d8a" stroke-width="0.7"/>
<rect x="310.70" y="296.20" width="5.20" height="0.15" fill="#7dc0e8" stroke="#3b6d8a" stroke-width="0.7"/>
<rect x="316.60" y="295.60" width="5.20" height="0.60" fill="#7dc0e8" stroke="#3b6d8a" stroke-width="0.7"/>
<rect x="327.55" y="294.60" width="5.20" height="1.60" fill="#7dc0e8" stroke="#3b6d8a" stroke-width="0.7"/>
<rect x="333.45" y="295.10" width="5.20" height="1.10" fill="#7dc0e8" stroke="#3b6d8a" stroke-width="0.7"/>
<rect x="344.40" y="292.90" width="5.20" height="3.30" fill="#7dc0e8" stroke="#3b6d8a" stroke-width="0.7"/>
<rect x="350.30" y="293.50" width="5.20" height="2.70" fill="#7dc0e8" stroke="#3b6d8a" stroke-width="0.7"/>
<line x1="356.50" y1="277.25" x2="356.50" y2="297.45" stroke="#111" stroke-width="1.2"/>
<text x="382.60" y="289.36" font-size="9.8" text-anchor="middle" textLength="11.5" lengthAdjust="spacingAndGlyphs">Tr1</text>
<line x1="407.30" y1="287.20" x2="410.50" y2="287.20" stroke="#111" stroke-width="1.0"/>
<rect x="413.90" y="278.80" width="2.92" height="16.80" fill="#d9d9d9" stroke="#2a2a2a" stroke-width="0.8" rx="0.8"/>
<line x1="191.55" y1="305.60" x2="191.55" y2="326.00" stroke="#111" stroke-width="1.1"/>
<line x1="188.40" y1="325.20" x2="191.20" y2="325.20" stroke="#444" stroke-width="0.85"/>
<text x="184.90" y="328.20" font-size="9.8" text-anchor="end" textLength="12.4" lengthAdjust="spacingAndGlyphs">0.0</text>
<line x1="188.40" y1="315.20" x2="191.20" y2="315.20" stroke="#444" stroke-width="0.85"/>
<text x="184.90" y="318.20" font-size="9.8" text-anchor="end" textLength="12.4" lengthAdjust="spacingAndGlyphs">0.2</text>
<rect x="192.75" y="324.35" width="5.20" height="0.20" fill="#8f1a1a" stroke="#5a0f0f" stroke-width="0.7"/>
<rect x="198.65" y="324.55" width="5.20" height="0.15" fill="#8f1a1a" stroke="#5a0f0f" stroke-width="0.7"/>
<rect x="209.60" y="322.65" width="5.20" height="1.90" fill="#8f1a1a" stroke="#5a0f0f" stroke-width="0.7"/>
<rect x="215.50" y="322.45" width="5.20" height="2.10" fill="#8f1a1a" stroke="#5a0f0f" stroke-width="0.7"/>
<rect x="226.45" y="318.75" width="5.20" height="5.80" fill="#8f1a1a" stroke="#5a0f0f" stroke-width="0.7"/>
<rect x="232.35" y="320.95" width="5.20" height="3.60" fill="#8f1a1a" stroke="#5a0f0f" stroke-width="0.7"/>
<rect x="243.30" y="319.65" width="5.20" height="4.90" fill="#8f1a1a" stroke="#5a0f0f" stroke-width="0.7"/>
<rect x="249.20" y="317.45" width="5.20" height="7.10" fill="#8f1a1a" stroke="#5a0f0f" stroke-width="0.7"/>
<rect x="260.15" y="321.65" width="5.20" height="2.90" fill="#8f1a1a" stroke="#5a0f0f" stroke-width="0.7"/>
<rect x="266.05" y="321.85" width="5.20" height="2.70" fill="#8f1a1a" stroke="#5a0f0f" stroke-width="0.7"/>
<rect x="277.00" y="319.45" width="5.20" height="5.10" fill="#8f1a1a" stroke="#5a0f0f" stroke-width="0.7"/>
<rect x="282.90" y="321.15" width="5.20" height="3.40" fill="#8f1a1a" stroke="#5a0f0f" stroke-width="0.7"/>
<rect x="293.85" y="310.75" width="5.20" height="13.80" fill="#8f1a1a" stroke="#5a0f0f" stroke-width="0.7"/>
<rect x="299.75" y="315.45" width="5.20" height="9.10" fill="#8f1a1a" stroke="#5a0f0f" stroke-width="0.7"/>
<rect x="310.70" y="319.80" width="5.20" height="4.75" fill="#8f1a1a" stroke="#5a0f0f" stroke-width="0.7"/>
<rect x="316.60" y="321.15" width="5.20" height="3.40" fill="#8f1a1a" stroke="#5a0f0f" stroke-width="0.7"/>
<rect x="327.55" y="321.55" width="5.20" height="3.00" fill="#8f1a1a" stroke="#5a0f0f" stroke-width="0.7"/>
<rect x="333.45" y="323.45" width="5.20" height="1.10" fill="#8f1a1a" stroke="#5a0f0f" stroke-width="0.7"/>
<rect x="344.40" y="322.25" width="5.20" height="2.30" fill="#8f1a1a" stroke="#5a0f0f" stroke-width="0.7"/>
<rect x="350.30" y="321.55" width="5.20" height="3.00" fill="#8f1a1a" stroke="#5a0f0f" stroke-width="0.7"/>
<line x1="356.50" y1="305.60" x2="356.50" y2="325.80" stroke="#111" stroke-width="1.2"/>
<text x="382.60" y="317.63" font-size="9.8" text-anchor="middle" textLength="37.1" lengthAdjust="spacingAndGlyphs">T.effmem</text>
<line x1="407.30" y1="315.55" x2="410.50" y2="315.55" stroke="#111" stroke-width="1.0"/>
<rect x="413.90" y="307.15" width="2.65" height="16.80" fill="#d9d9d9" stroke="#2a2a2a" stroke-width="0.8" rx="0.8"/>
<line x1="191.70" y1="325.75" x2="204.90" y2="325.75" stroke="#111" stroke-width="1.4"/>
<line x1="195.35" y1="325.75" x2="195.35" y2="329.10" stroke="#111" stroke-width="1.0"/>
<line x1="201.25" y1="325.75" x2="201.25" y2="329.10" stroke="#111" stroke-width="1.0"/>
<text x="198.30" y="339.50" font-size="8.9" text-anchor="middle" textLength="11.6" lengthAdjust="spacingAndGlyphs">AB</text>
<line x1="208.55" y1="325.75" x2="221.75" y2="325.75" stroke="#111" stroke-width="1.4"/>
<line x1="212.20" y1="325.75" x2="212.20" y2="329.10" stroke="#111" stroke-width="1.0"/>
<line x1="218.10" y1="325.75" x2="218.10" y2="329.10" stroke="#111" stroke-width="1.0"/>
<text x="215.15" y="339.50" font-size="8.9" text-anchor="middle" textLength="11.6" lengthAdjust="spacingAndGlyphs">AB</text>
<line x1="225.40" y1="325.75" x2="238.60" y2="325.75" stroke="#111" stroke-width="1.4"/>
<line x1="229.05" y1="325.75" x2="229.05" y2="329.10" stroke="#111" stroke-width="1.0"/>
<line x1="234.95" y1="325.75" x2="234.95" y2="329.10" stroke="#111" stroke-width="1.0"/>
<text x="232.00" y="339.50" font-size="8.9" text-anchor="middle" textLength="11.6" lengthAdjust="spacingAndGlyphs">AB</text>
<line x1="242.25" y1="325.75" x2="255.45" y2="325.75" stroke="#111" stroke-width="1.4"/>
<line x1="245.90" y1="325.75" x2="245.90" y2="329.10" stroke="#111" stroke-width="1.0"/>
<line x1="251.80" y1="325.75" x2="251.80" y2="329.10" stroke="#111" stroke-width="1.0"/>
<text x="248.85" y="339.50" font-size="8.9" text-anchor="middle" textLength="11.6" lengthAdjust="spacingAndGlyphs">AB</text>
<line x1="259.10" y1="325.75" x2="272.30" y2="325.75" stroke="#111" stroke-width="1.4"/>
<line x1="262.75" y1="325.75" x2="262.75" y2="329.10" stroke="#111" stroke-width="1.0"/>
<line x1="268.65" y1="325.75" x2="268.65" y2="329.10" stroke="#111" stroke-width="1.0"/>
<text x="265.70" y="339.50" font-size="8.9" text-anchor="middle" textLength="11.6" lengthAdjust="spacingAndGlyphs">AB</text>
<line x1="275.95" y1="325.75" x2="289.15" y2="325.75" stroke="#111" stroke-width="1.4"/>
<line x1="279.60" y1="325.75" x2="279.60" y2="329.10" stroke="#111" stroke-width="1.0"/>
<line x1="285.50" y1="325.75" x2="285.50" y2="329.10" stroke="#111" stroke-width="1.0"/>
<text x="282.55" y="339.50" font-size="8.9" text-anchor="middle" textLength="11.6" lengthAdjust="spacingAndGlyphs">AB</text>
<line x1="292.80" y1="325.75" x2="306.00" y2="325.75" stroke="#111" stroke-width="1.4"/>
<line x1="296.45" y1="325.75" x2="296.45" y2="329.10" stroke="#111" stroke-width="1.0"/>
<line x1="302.35" y1="325.75" x2="302.35" y2="329.10" stroke="#111" stroke-width="1.0"/>
<text x="299.40" y="339.50" font-size="8.9" text-anchor="middle" textLength="11.6" lengthAdjust="spacingAndGlyphs">AB</text>
<line x1="309.65" y1="325.75" x2="322.85" y2="325.75" stroke="#111" stroke-width="1.4"/>
<line x1="313.30" y1="325.75" x2="313.30" y2="329.10" stroke="#111" stroke-width="1.0"/>
<line x1="319.20" y1="325.75" x2="319.20" y2="329.10" stroke="#111" stroke-width="1.0"/>
<text x="316.25" y="339.50" font-size="8.9" text-anchor="middle" textLength="11.6" lengthAdjust="spacingAndGlyphs">AB</text>
<line x1="326.50" y1="325.75" x2="339.70" y2="325.75" stroke="#111" stroke-width="1.4"/>
<line x1="330.15" y1="325.75" x2="330.15" y2="329.10" stroke="#111" stroke-width="1.0"/>
<line x1="336.05" y1="325.75" x2="336.05" y2="329.10" stroke="#111" stroke-width="1.0"/>
<text x="333.10" y="339.50" font-size="8.9" text-anchor="middle" textLength="11.6" lengthAdjust="spacingAndGlyphs">AB</text>
<line x1="343.35" y1="325.75" x2="356.55" y2="325.75" stroke="#111" stroke-width="1.4"/>
<line x1="347.00" y1="325.75" x2="347.00" y2="329.10" stroke="#111" stroke-width="1.0"/>
<line x1="352.90" y1="325.75" x2="352.90" y2="329.10" stroke="#111" stroke-width="1.0"/>
<text x="349.95" y="339.50" font-size="8.9" text-anchor="middle" textLength="11.6" lengthAdjust="spacingAndGlyphs">AB</text>
<text x="167.00" y="195.90" font-size="11.2" text-anchor="middle" textLength="72.3" lengthAdjust="spacingAndGlyphs" transform="rotate(-90 167.00 195.90)">Fraction of all T cells</text>
<line x1="410.50" y1="45.40" x2="410.50" y2="326.40" stroke="#111" stroke-width="1.2"/>
<line x1="409.90" y1="46.00" x2="485.10" y2="46.00" stroke="#111" stroke-width="1.2"/>
<line x1="409.90" y1="325.80" x2="483.80" y2="325.80" stroke="#111" stroke-width="1.2"/>
<line x1="413.50" y1="42.60" x2="413.50" y2="46.00" stroke="#111" stroke-width="1.0"/>
<text x="413.50" y="37.30" font-size="9.2" text-anchor="middle">0</text>
<line x1="427.35" y1="42.60" x2="427.35" y2="46.00" stroke="#111" stroke-width="1.0"/>
<text x="427.35" y="37.30" font-size="9.2" text-anchor="middle">1</text>
<line x1="441.20" y1="42.60" x2="441.20" y2="46.00" stroke="#111" stroke-width="1.0"/>
<text x="441.20" y="37.30" font-size="9.2" text-anchor="middle">2</text>
<line x1="455.05" y1="42.60" x2="455.05" y2="46.00" stroke="#111" stroke-width="1.0"/>
<text x="455.05" y="37.30" font-size="9.2" text-anchor="middle">3</text>
<line x1="468.90" y1="42.60" x2="468.90" y2="46.00" stroke="#111" stroke-width="1.0"/>
<text x="468.90" y="37.30" font-size="9.2" text-anchor="middle">4</text>
<line x1="482.75" y1="42.60" x2="482.75" y2="46.00" stroke="#111" stroke-width="1.0"/>
<text x="482.75" y="37.30" font-size="9.2" text-anchor="middle">5</text>
<text x="396.90" y="24.00" font-size="11.3" textLength="100" lengthAdjust="spacingAndGlyphs">-log(p-value) of correlation</text>
<text x="466.90" y="262.00" font-size="8.4" textLength="44.3" lengthAdjust="spacingAndGlyphs">Correlation</text>
<text x="466.90" y="272.60" font-size="8.4" textLength="41.1" lengthAdjust="spacingAndGlyphs">coefficient</text>
<defs><linearGradient id="gg" x1="0" y1="0" x2="0" y2="1"><stop offset="0" stop-color="#1e1e1e"/><stop offset="1" stop-color="#ffffff"/></linearGradient></defs>
<rect x="469.6" y="278.4" width="5.4" height="31.9" fill="url(#gg)" stroke="#111" stroke-width="0.8"/>
<text x="477.60" y="283.30" font-size="8.2">1</text>
<text x="477.90" y="296.80" font-size="8.2" textLength="11.2" lengthAdjust="spacingAndGlyphs">0.5</text>
<text x="477.90" y="310.80" font-size="8.2">0</text>
<rect x="55.5" y="370.0" width="133.9" height="133.39999999999998" fill="none" stroke="#111" stroke-width="1.2" stroke-linejoin="round"/>
<line x1="51.90" y1="373.50" x2="55.50" y2="373.50" stroke="#111" stroke-width="1.0"/>
<text x="48.10" y="375.70" font-size="10.0" text-anchor="end" textLength="16.9" lengthAdjust="spacingAndGlyphs">0.00</text>
<line x1="51.90" y1="404.45" x2="55.50" y2="404.45" stroke="#111" stroke-width="1.0"/>
<text x="48.10" y="407.45" font-size="10.0" text-anchor="end" textLength="16.9" lengthAdjust="spacingAndGlyphs">0.25</text>
<line x1="51.90" y1="435.40" x2="55.50" y2="435.40" stroke="#111" stroke-width="1.0"/>
<text x="48.10" y="438.40" font-size="10.0" text-anchor="end" textLength="16.9" lengthAdjust="spacingAndGlyphs">0.50</text>
<line x1="51.90" y1="466.35" x2="55.50" y2="466.35" stroke="#111" stroke-width="1.0"/>
<text x="48.10" y="469.35" font-size="10.0" text-anchor="end" textLength="16.9" lengthAdjust="spacingAndGlyphs">0.75</text>
<line x1="51.90" y1="497.30" x2="55.50" y2="497.30" stroke="#111" stroke-width="1.0"/>
<text x="48.10" y="500.30" font-size="10.0" text-anchor="end" textLength="16.9" lengthAdjust="spacingAndGlyphs">1.00</text>
<line x1="65.30" y1="503.40" x2="65.30" y2="506.90" stroke="#111" stroke-width="1.0"/>
<text x="65.30" y="518.30" font-size="10.0" text-anchor="middle" textLength="12.2" lengthAdjust="spacingAndGlyphs">1.0</text>
<line x1="106.70" y1="503.40" x2="106.70" y2="506.90" stroke="#111" stroke-width="1.0"/>
<text x="106.70" y="518.30" font-size="10.0" text-anchor="middle" textLength="12.2" lengthAdjust="spacingAndGlyphs">1.5</text>
<line x1="148.10" y1="503.40" x2="148.10" y2="506.90" stroke="#111" stroke-width="1.0"/>
<text x="148.10" y="518.30" font-size="10.0" text-anchor="middle" textLength="12.2" lengthAdjust="spacingAndGlyphs">2.0</text>
<text x="122.50" y="532.30" font-size="10.3" text-anchor="middle" textLength="73" lengthAdjust="spacingAndGlyphs">Tfh abundance ratio</text>
<text x="25.40" y="436.90" font-size="11.2" text-anchor="middle" textLength="95.5" lengthAdjust="spacingAndGlyphs" transform="rotate(-90 25.40 436.90)">Tumor gene expression SI</text>
<text x="60" y="380.3" font-size="8.5" textLength="27.6" lengthAdjust="spacingAndGlyphs"><tspan font-style="italic">r</tspan> = 0.81</text>
<text x="60" y="389.4" font-size="8.5" textLength="34.9" lengthAdjust="spacingAndGlyphs"><tspan font-style="italic">P</tspan> = 0.008</text>
<circle cx="129.40" cy="380.70" r="2.6" fill="#ea7b76" stroke="#111" stroke-width="0.75"/>
<circle cx="170.40" cy="382.90" r="2.6" fill="#e79ed3" stroke="#111" stroke-width="0.75"/>
<circle cx="106.10" cy="402.60" r="2.6" fill="#d2081a" stroke="#111" stroke-width="0.75"/>
<circle cx="127.40" cy="416.90" r="2.6" fill="#3d8d52" stroke="#111" stroke-width="0.75"/>
<circle cx="117.40" cy="429.50" r="2.6" fill="#8b3fa0" stroke="#111" stroke-width="0.75"/>
<circle cx="160.40" cy="440.20" r="2.6" fill="#f6e60c" stroke="#111" stroke-width="0.75"/>
<circle cx="70.90" cy="442.60" r="2.6" fill="#4a7cc4" stroke="#111" stroke-width="0.75"/>
<circle cx="106.20" cy="455.90" r="2.6" fill="#e9820f" stroke="#111" stroke-width="0.75"/>
<circle cx="69.10" cy="473.40" r="2.6" fill="#a6b6e6" stroke="#111" stroke-width="0.75"/>
<circle cx="68.00" cy="486.90" r="2.6" fill="#5da545" stroke="#111" stroke-width="0.75"/>
<line x1="68.10" y1="461.80" x2="170.40" y2="391.50" stroke="#111" stroke-width="1.2"/>
<text x="127.30" y="390.60" font-size="8.6" textLength="13.4" lengthAdjust="spacingAndGlyphs">FL8</text>
<text x="153.70" y="390.60" font-size="8.6" textLength="13.4" lengthAdjust="spacingAndGlyphs">FL2</text>
<text x="107.10" y="412.90" font-size="8.6" textLength="13.4" lengthAdjust="spacingAndGlyphs">FL3</text>
<text x="125.40" y="412.40" font-size="8.6" textLength="13.4" lengthAdjust="spacingAndGlyphs">FL5</text>
<text x="113.00" y="441.20" font-size="8.6" textLength="13.4" lengthAdjust="spacingAndGlyphs">FL7</text>
<text x="152.40" y="435.80" font-size="8.6" textLength="13.4" lengthAdjust="spacingAndGlyphs">FL9</text>
<text x="74.50" y="444.80" font-size="8.6" textLength="13.4" lengthAdjust="spacingAndGlyphs">FL4</text>
<text x="99.80" y="452.40" font-size="8.6" textLength="13.4" lengthAdjust="spacingAndGlyphs">FL6</text>
<text x="72.10" y="471.80" font-size="8.6" textLength="18.0" lengthAdjust="spacingAndGlyphs">FL10</text>
<text x="69.10" y="484.60" font-size="8.6" textLength="13.4" lengthAdjust="spacingAndGlyphs">FL1</text>
<rect x="240.4" y="370.2" width="133.45000000000002" height="133.15000000000003" fill="none" stroke="#111" stroke-width="1.2" stroke-linejoin="round"/>
<line x1="236.30" y1="374.60" x2="240.40" y2="374.60" stroke="#111" stroke-width="1.0"/>
<text x="233.50" y="377.60" font-size="10.0" text-anchor="end" textLength="11.0" lengthAdjust="spacingAndGlyphs">1.6</text>
<line x1="236.30" y1="412.10" x2="240.40" y2="412.10" stroke="#111" stroke-width="1.0"/>
<text x="233.50" y="415.10" font-size="10.0" text-anchor="end" textLength="11.0" lengthAdjust="spacingAndGlyphs">1.2</text>
<line x1="236.30" y1="450.20" x2="240.40" y2="450.20" stroke="#111" stroke-width="1.0"/>
<text x="233.50" y="453.20" font-size="10.0" text-anchor="end" textLength="11.0" lengthAdjust="spacingAndGlyphs">0.8</text>
<line x1="236.30" y1="487.90" x2="240.40" y2="487.90" stroke="#111" stroke-width="1.0"/>
<text x="233.50" y="490.90" font-size="10.0" text-anchor="end" textLength="11.0" lengthAdjust="spacingAndGlyphs">0.4</text>
<line x1="250.40" y1="503.35" x2="250.40" y2="506.85" stroke="#111" stroke-width="1.0"/>
<text x="250.40" y="517.40" font-size="10.0" text-anchor="middle" textLength="17.0" lengthAdjust="spacingAndGlyphs">0.00</text>
<line x1="290.90" y1="503.35" x2="290.90" y2="506.85" stroke="#111" stroke-width="1.0"/>
<text x="290.90" y="517.40" font-size="10.0" text-anchor="middle" textLength="17.0" lengthAdjust="spacingAndGlyphs">0.01</text>
<line x1="331.40" y1="503.35" x2="331.40" y2="506.85" stroke="#111" stroke-width="1.0"/>
<text x="331.40" y="517.40" font-size="10.0" text-anchor="middle" textLength="17.0" lengthAdjust="spacingAndGlyphs">0.02</text>
<line x1="371.90" y1="503.35" x2="371.90" y2="506.85" stroke="#111" stroke-width="1.0"/>
<text x="371.90" y="517.40" font-size="10.0" text-anchor="middle" textLength="17.0" lengthAdjust="spacingAndGlyphs">0.03</text>
<text x="307.10" y="532.20" font-size="10.3" text-anchor="middle" textLength="98.0" lengthAdjust="spacingAndGlyphs">MKI67 expression Tfh cells</text>
<text x="214.80" y="436.75" font-size="11.2" text-anchor="middle" textLength="105.9" lengthAdjust="spacingAndGlyphs" transform="rotate(-90 214.80 436.75)">CD40 expression tumor cells</text>
<text x="243.3" y="380.3" font-size="8.5" textLength="28.4" lengthAdjust="spacingAndGlyphs"><tspan font-style="italic">r</tspan> = 0.66</text>
<text x="243.3" y="389.4" font-size="8.5" textLength="35.6" lengthAdjust="spacingAndGlyphs"><tspan font-style="italic">P</tspan> = 0.002</text>
<line x1="254.60" y1="471.50" x2="350.40" y2="403.40" stroke="#111" stroke-width="1.2"/>
<circle cx="286.80" cy="390.50" r="2.15" fill="#e9820f" stroke="#111" stroke-width="0.75"/>
<circle cx="350.90" cy="389.00" r="2.15" fill="#e9820f" stroke="#111" stroke-width="0.75"/>
<circle cx="330.30" cy="399.60" r="2.15" fill="#ea7b76" stroke="#111" stroke-width="0.75"/>
<circle cx="295.40" cy="411.40" r="2.15" fill="#e79ed3" stroke="#111" stroke-width="0.75"/>
<circle cx="330.80" cy="424.10" r="2.15" fill="#e79ed3" stroke="#111" stroke-width="0.75"/>
<circle cx="291.10" cy="438.50" r="2.15" fill="#ea7b76" stroke="#111" stroke-width="0.75"/>
<circle cx="262.10" cy="448.50" r="2.15" fill="#a6b6e6" stroke="#111" stroke-width="0.75"/>
<circle cx="285.60" cy="451.70" r="2.15" fill="#d2081a" stroke="#111" stroke-width="0.75"/>
<circle cx="293.70" cy="454.70" r="2.15" fill="#3d8d52" stroke="#111" stroke-width="0.75"/>
<circle cx="254.00" cy="454.60" r="2.15" fill="#a6b6e6" stroke="#111" stroke-width="0.75"/>
<circle cx="254.00" cy="457.90" r="2.15" fill="#d2081a" stroke="#111" stroke-width="0.75"/>
<circle cx="268.50" cy="465.60" r="2.15" fill="#8b3fa0" stroke="#111" stroke-width="0.75"/>
<circle cx="287.50" cy="465.00" r="2.15" fill="#3d8d52" stroke="#111" stroke-width="0.75"/>
<circle cx="332.30" cy="466.80" r="2.15" fill="#4a7cc4" stroke="#111" stroke-width="0.75"/>
<circle cx="254.00" cy="472.00" r="2.15" fill="#8b3fa0" stroke="#111" stroke-width="0.75"/>
<circle cx="281.00" cy="476.70" r="2.15" fill="#5da545" stroke="#111" stroke-width="0.75"/>
<circle cx="254.20" cy="483.60" r="2.15" fill="#f6e60c" stroke="#111" stroke-width="0.75"/>
<circle cx="254.20" cy="485.40" r="2.15" fill="#f6e60c" stroke="#111" stroke-width="0.75"/>
<circle cx="246.80" cy="485.20" r="2.15" fill="#4a7cc4" stroke="#111" stroke-width="0.75"/>
<circle cx="264.50" cy="489.30" r="2.15" fill="#5da545" stroke="#111" stroke-width="0.75"/>
<text x="290.20" y="392.60" font-size="8.6" textLength="12.7" lengthAdjust="spacingAndGlyphs">FL6</text>
<text x="351.90" y="387.30" font-size="8.6" textLength="12.7" lengthAdjust="spacingAndGlyphs">FL6</text>
<text x="332.90" y="406.30" font-size="8.6" textLength="12.7" lengthAdjust="spacingAndGlyphs">FL8</text>
<text x="298.60" y="413.90" font-size="8.6" textLength="12.7" lengthAdjust="spacingAndGlyphs">FL2</text>
<text x="334.00" y="422.20" font-size="8.6" textLength="12.7" lengthAdjust="spacingAndGlyphs">FL2</text>
<text x="292.30" y="434.90" font-size="8.6" textLength="12.7" lengthAdjust="spacingAndGlyphs">FL8</text>
<text x="250.20" y="443.50" font-size="8.6" textLength="17.1" lengthAdjust="spacingAndGlyphs">FL10</text>
<text x="241.90" y="451.20" font-size="8.6" textLength="17.1" lengthAdjust="spacingAndGlyphs">FL10</text>
<text x="273.30" y="449.20" font-size="8.6" textLength="12.7" lengthAdjust="spacingAndGlyphs">FL3</text>
<text x="296.40" y="457.40" font-size="8.6" textLength="12.7" lengthAdjust="spacingAndGlyphs">FL5</text>
<text x="262.30" y="459.80" font-size="8.6" textLength="12.7" lengthAdjust="spacingAndGlyphs">FL7</text>
<text x="241.90" y="467.90" font-size="8.6" textLength="12.7" lengthAdjust="spacingAndGlyphs">FL3</text>
<text x="290.60" y="467.40" font-size="8.6" textLength="12.7" lengthAdjust="spacingAndGlyphs">FL5</text>
<text x="321.90" y="464.10" font-size="8.6" textLength="12.7" lengthAdjust="spacingAndGlyphs">FL4</text>
<text x="257.90" y="477.70" font-size="8.6" textLength="12.7" lengthAdjust="spacingAndGlyphs">FL7</text>
<text x="284.80" y="478.70" font-size="8.6" textLength="12.7" lengthAdjust="spacingAndGlyphs">FL1</text>
<text x="242.50" y="481.00" font-size="8.6" textLength="12.7" lengthAdjust="spacingAndGlyphs">FL4</text>
<text x="256.50" y="485.80" font-size="8.6" textLength="12.7" lengthAdjust="spacingAndGlyphs">FL9</text>
<text x="243.80" y="495.00" font-size="8.6" textLength="12.7" lengthAdjust="spacingAndGlyphs">FL9</text>
<text x="268.50" y="493.10" font-size="8.6" textLength="12.7" lengthAdjust="spacingAndGlyphs">FL1</text>
</svg></body></html>
